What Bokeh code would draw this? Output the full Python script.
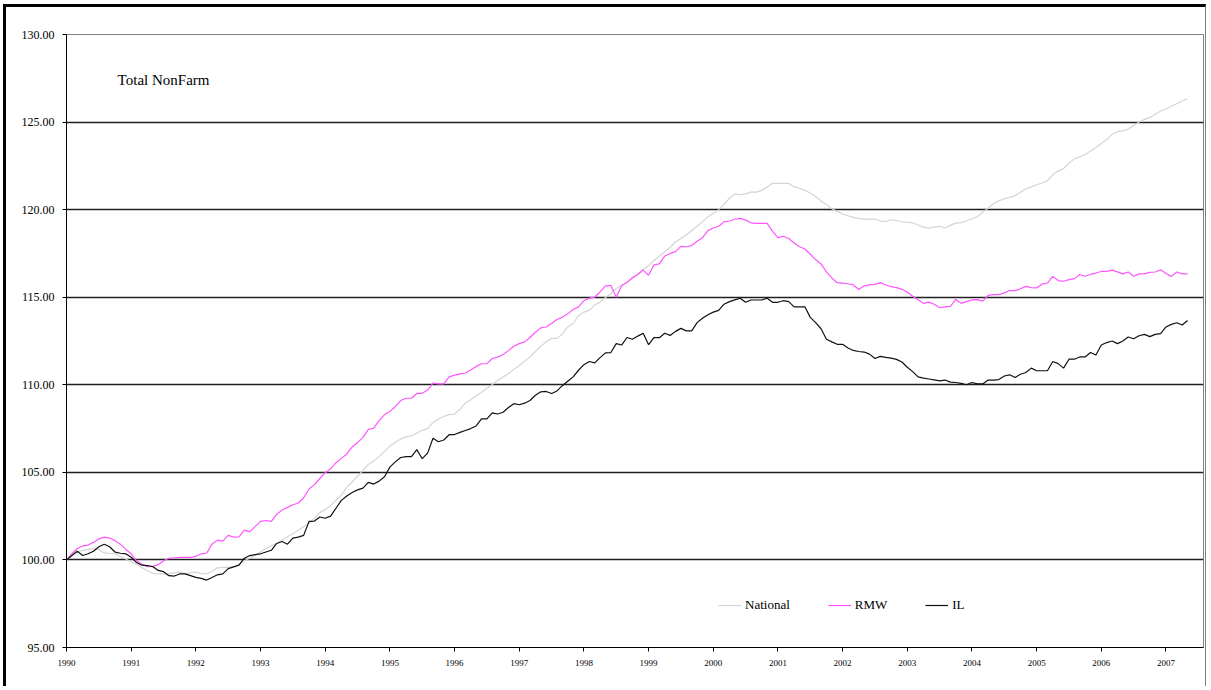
from bokeh.plotting import figure
from bokeh.models import (Range1d, FixedTicker, NumeralTickFormatter, Label,
                          Legend, LegendItem, ColumnDataSource)
from bokeh.embed import file_html
from bokeh.resources import INLINE

start_year = 1990
years = list(range(1990, 2008))
y_ticks = [95, 100, 105, 110, 115, 120, 125, 130]

national = [
    100.00, 100.25, 100.45, 100.55, 100.60, 100.65, 100.60, 100.40, 100.38, 100.35,
    100.20, 100.05, 99.90, 99.75, 99.55, 99.40, 99.22, 99.20, 99.20, 99.22,
    99.26, 99.30, 99.20, 99.28, 99.30, 99.22, 99.20, 99.35, 99.55, 99.58,
    99.58, 99.60, 99.75, 99.95, 100.10, 100.25, 100.45, 100.65, 100.80, 100.93,
    101.13, 101.32, 101.50, 101.70, 101.90, 102.08, 102.39, 102.70, 102.88, 103.10,
    103.40, 103.70, 104.15, 104.45, 104.78, 105.10, 105.45, 105.65, 105.90, 106.20,
    106.50, 106.70, 106.90, 107.04, 107.08, 107.25, 107.40, 107.50, 107.85, 108.05,
    108.20, 108.30, 108.33, 108.60, 108.95, 109.15, 109.38, 109.58, 109.80, 110.02,
    110.25, 110.45, 110.65, 110.88, 111.10, 111.35, 111.58, 111.90, 112.20, 112.45,
    112.65, 112.65, 112.90, 113.30, 113.50, 113.95, 114.15, 114.25, 114.55, 114.72,
    114.98, 115.20, 115.50, 115.68, 115.85, 116.15, 116.30, 116.60, 116.80, 117.10,
    117.35, 117.60, 117.85, 118.15, 118.35, 118.55, 118.80, 119.05, 119.30, 119.60,
    119.80, 120.00, 120.30, 120.65, 120.90, 120.85, 120.90, 121.00, 121.00, 121.10,
    121.30, 121.50, 121.50, 121.50, 121.50, 121.30, 121.22, 121.10, 120.95, 120.75,
    120.50, 120.30, 120.05, 119.90, 119.75, 119.65, 119.56, 119.50, 119.46, 119.46,
    119.46, 119.35, 119.32, 119.42, 119.38, 119.31, 119.28, 119.25, 119.12, 119.00,
    118.94, 119.02, 119.05, 118.95, 119.10, 119.23, 119.26, 119.35, 119.48, 119.60,
    119.85, 120.08, 120.35, 120.50, 120.62, 120.70, 120.80, 121.00, 121.18, 121.30,
    121.42, 121.52, 121.65, 122.00, 122.20, 122.35, 122.65, 122.90, 123.02, 123.15,
    123.35, 123.55, 123.78, 124.00, 124.30, 124.45, 124.50, 124.60, 124.80, 125.00,
    125.15, 125.25, 125.45, 125.63, 125.75, 125.90, 126.05, 126.20, 126.33,
]

rmw = [
    100.00, 100.35, 100.65, 100.80, 100.85, 101.00, 101.20, 101.30, 101.25, 101.10,
    100.90, 100.60, 100.35, 99.95, 99.75, 99.62, 99.63, 99.73, 99.95, 100.10,
    100.12, 100.15, 100.15, 100.15, 100.20, 100.35, 100.38, 100.90, 101.13, 101.07,
    101.40, 101.30, 101.32, 101.70, 101.60, 101.90, 102.20, 102.25, 102.20, 102.60,
    102.85, 103.00, 103.15, 103.25, 103.55, 104.05, 104.30, 104.65, 104.98, 105.20,
    105.55, 105.80, 106.05, 106.45, 106.70, 107.00, 107.45, 107.52, 107.95, 108.30,
    108.48, 108.75, 109.10, 109.23, 109.23, 109.50, 109.52, 109.70, 110.10, 110.05,
    110.05, 110.45, 110.55, 110.62, 110.66, 110.85, 111.05, 111.20, 111.21, 111.50,
    111.58, 111.73, 111.95, 112.20, 112.35, 112.45, 112.70, 113.00, 113.25, 113.30,
    113.50, 113.73, 113.85, 114.05, 114.30, 114.45, 114.80, 114.95, 115.00, 115.30,
    115.65, 115.68, 115.00, 115.65, 115.85, 116.10, 116.30, 116.55, 116.25, 116.85,
    116.90, 117.35, 117.50, 117.60, 117.90, 117.88, 117.95, 118.20, 118.40, 118.80,
    118.95, 119.05, 119.30, 119.35, 119.45, 119.50, 119.40, 119.25, 119.22, 119.22,
    119.22, 118.76, 118.40, 118.48, 118.35, 118.10, 117.88, 117.75, 117.45, 117.15,
    116.90, 116.45, 116.10, 115.83, 115.80, 115.77, 115.70, 115.44, 115.65, 115.70,
    115.73, 115.83, 115.70, 115.60, 115.55, 115.45, 115.30, 115.05, 114.85, 114.65,
    114.72, 114.60, 114.40, 114.45, 114.48, 114.87, 114.65, 114.75, 114.85, 114.86,
    114.78, 115.10, 115.15, 115.15, 115.25, 115.38, 115.38, 115.48, 115.62, 115.55,
    115.53, 115.75, 115.81, 116.19, 115.95, 115.91, 116.00, 116.06, 116.30, 116.20,
    116.30, 116.38, 116.47, 116.48, 116.55, 116.45, 116.33, 116.44, 116.20, 116.33,
    116.33, 116.42, 116.44, 116.57, 116.35, 116.19, 116.44, 116.33, 116.33,
]

il = [
    100.00, 100.25, 100.50, 100.25, 100.35, 100.50, 100.75, 100.90, 100.75, 100.45,
    100.38, 100.35, 100.15, 99.85, 99.70, 99.68, 99.62, 99.40, 99.33, 99.10,
    99.08, 99.20, 99.20, 99.10, 99.00, 98.95, 98.85, 99.00, 99.15, 99.20,
    99.50, 99.60, 99.70, 100.10, 100.25, 100.30, 100.35, 100.45, 100.55, 100.94,
    101.05, 100.90, 101.25, 101.30, 101.40, 102.20, 102.22, 102.45, 102.38, 102.50,
    102.95, 103.40, 103.65, 103.85, 104.00, 104.10, 104.43, 104.33, 104.50, 104.75,
    105.30, 105.60, 105.85, 105.90, 105.90, 106.30, 105.78, 106.10, 106.95, 106.75,
    106.85, 107.15, 107.16, 107.28, 107.39, 107.50, 107.65, 108.05, 108.05, 108.40,
    108.33, 108.43, 108.70, 108.92, 108.86, 108.95, 109.10, 109.40, 109.60, 109.62,
    109.50, 109.65, 109.95, 110.20, 110.45, 110.83, 111.15, 111.33, 111.25, 111.55,
    111.82, 111.84, 112.35, 112.27, 112.70, 112.60, 112.78, 112.94, 112.29, 112.69,
    112.69, 112.94, 112.82, 113.05, 113.22, 113.08, 113.08, 113.55, 113.80, 114.00,
    114.15, 114.25, 114.60, 114.75, 114.85, 114.94, 114.71, 114.84, 114.84, 114.84,
    114.94, 114.71, 114.71, 114.80, 114.75, 114.45, 114.45, 114.45, 113.85, 113.55,
    113.20, 112.60, 112.45, 112.31, 112.31, 112.10, 111.96, 111.90, 111.87, 111.75,
    111.50, 111.62, 111.56, 111.52, 111.45, 111.30, 111.00, 110.75, 110.45, 110.38,
    110.33, 110.28, 110.22, 110.27, 110.15, 110.13, 110.08, 110.00, 110.13, 110.05,
    110.05, 110.27, 110.27, 110.30, 110.50, 110.57, 110.42, 110.60, 110.70, 110.95,
    110.80, 110.80, 110.80, 111.33, 111.21, 110.95, 111.46, 111.46, 111.59, 111.59,
    111.84, 111.70, 112.27, 112.41, 112.50, 112.35, 112.50, 112.73, 112.63, 112.80,
    112.88, 112.75, 112.88, 112.92, 113.30, 113.45, 113.54, 113.41, 113.67,
]

months = [start_year + i / 12.0 for i in range(len(national))]
source = ColumnDataSource(dict(x=months, national=national, rmw=rmw, il=il))

FONT = "Liberation Serif"
W, H = 1203, 682
CX, CY = 6, 7  # canvas origin on the page (margin + border)

p = figure(width=W, height=H, output_backend="svg", toolbar_location=None,
           x_range=Range1d(1990, 2007.58), y_range=Range1d(95, 130),
           min_border_left=66 - CX, min_border_top=34 - CY,
           min_border_bottom=(CY + H) - 647, min_border_right=(CX + W) - 1203)
p.styles = {"margin-top": "4px", "margin-left": "3px",
            "border-top": "3px solid black", "border-left": "3px solid black",
            "border-right": "1px solid #808080"}
p.background_fill_color = "white"
p.border_fill_color = "white"
p.outline_line_color = "#808080"
p.outline_line_width = 1

# axes
p.xaxis.ticker = FixedTicker(ticks=years)
p.xaxis.formatter = NumeralTickFormatter(format="0")
p.yaxis.ticker = FixedTicker(ticks=y_ticks)
p.yaxis.formatter = NumeralTickFormatter(format="0.00")
for ax in (p.xaxis, p.yaxis):
    ax.axis_line_color = "black"
    ax.axis_line_width = 1
    ax.major_tick_line_color = "black"
    ax.major_tick_in = 0
    ax.major_tick_out = 4
    ax.minor_tick_line_color = None
    ax.major_label_text_font = FONT
    ax.major_label_text_color = "black"
p.xaxis.major_label_text_font_size = "9px"
p.xaxis.major_label_standoff = 8
p.yaxis.major_label_text_font_size = "12px"
p.yaxis.major_label_standoff = 8

p.xgrid.grid_line_color = None
p.ygrid.grid_line_color = "#202020"
p.ygrid.grid_line_width = 1.4

r_nat = p.line("x", "national", source=source, line_color="#d4d4d4", line_width=1.2)
r_rmw = p.line("x", "rmw", source=source, line_color="#ff55ff", line_width=1.2)
r_il = p.line("x", "il", source=source, line_color="#111111", line_width=1.2)

legend = Legend(items=[LegendItem(label="National", renderers=[r_nat]),
                       LegendItem(label="RMW", renderers=[r_rmw]),
                       LegendItem(label="IL", renderers=[r_il])],
                orientation="horizontal", location=(652, 34),
                label_text_font=FONT, label_text_font_size="13px",
                label_text_color="black", glyph_width=23, glyph_height=16,
                label_standoff=4, spacing=38, padding=0, margin=0,
                background_fill_alpha=0, border_line_alpha=0,
                label_height=16)
p.add_layout(legend)

p.add_layout(Label(x=1990.79, y=127.42, text="Total NonFarm", text_font=FONT,
                   text_font_size="15px", text_baseline="middle", text_color="black"))

open("out.html", "w").write(file_html(p, INLINE))
